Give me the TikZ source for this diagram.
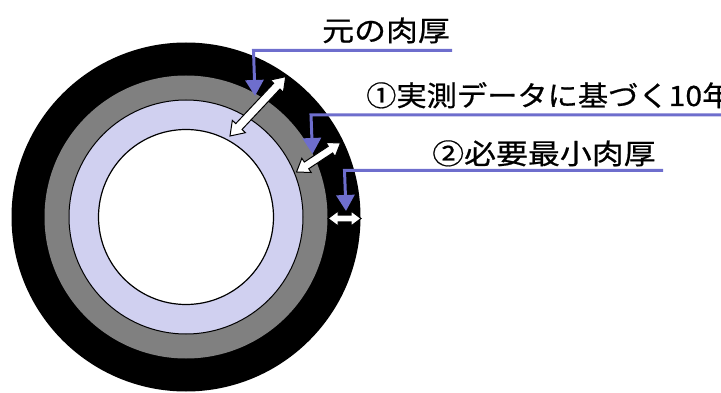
\documentclass[tikz,border=0pt]{standalone}
\usepackage{fontspec}
\newfontfamily\jp[FakeBold=0.6]{Noto Sans CJK JP}
\usetikzlibrary{arrows.meta,calc}
\definecolor{leaderblue}{RGB}{110,110,205}
\definecolor{ringgray}{RGB}{128,128,128}
\definecolor{lavender}{RGB}{208,208,240}
\newcommand\blkarrow[5]{%
 \draw[whitearrow] (#1) -- ($(#1)!#5!(#2)!#4!90:(#2)$) -- ($(#1)!#5!(#2)!#3!90:(#2)$)
 -- ($(#2)!#5!(#1)!#3!-90:(#1)$) -- ($(#2)!#5!(#1)!#4!-90:(#1)$) -- (#2)
 -- ($(#2)!#5!(#1)!#4!90:(#1)$) -- ($(#2)!#5!(#1)!#3!90:(#1)$)
 -- ($(#1)!#5!(#2)!#3!-90:(#2)$) -- ($(#1)!#5!(#2)!#4!-90:(#2)$) -- cycle;}
\tikzset{
 whitearrow/.style={draw=black,fill=white,line width=1pt,line join=miter},
 leader/.style={draw=leaderblue,line width=3pt,-{Triangle[width=18pt,length=16pt]}},
 lbl/.style={anchor=base west,inner sep=0pt,font=\jp\fontsize{28}{32}\selectfont},
}
\begin{document}
\begin{tikzpicture}[x=1pt,y=-1pt]
\useasboundingbox (0,0) rectangle (721,393);
\coordinate (c) at (186,217);
\fill[black] (c) circle (174.5);
\fill[ringgray] (c) circle (141.5);
\draw[fill=lavender,line width=1pt] (c) circle (117);
\draw[fill=white,line width=1.2pt] (c) circle (87.5);
% texts
\node[lbl] (t1) at (322,41) {\scalebox{1.14}[1]{元の肉厚}};
\node[lbl] (t2) at (366,106) {\scalebox{1.08}[1]{①実測データに基づく10年}};
\node[lbl] (t3) at (432,164) {\scalebox{1.14}[1]{②必要最小肉厚}};
% leader lines
\coordinate (l1e) at (452,50.5);
\coordinate (l1c) at (255,50.5);
\coordinate (l1t) at (255,96);
\coordinate (l2e) at (722,115);
\coordinate (l2c) at (312.5,115);
\coordinate (l2t) at (312.5,154);
\coordinate (l3e) at (663,170.5);
\coordinate (l3c) at (346,170.5);
\coordinate (l3t) at (346,211);
\draw[leader] (l1e) -- ([xshift=-1.5pt]l1c) -- (l1t);
\draw[leader] (l2e) -- ([xshift=-1.5pt]l2c) -- (l2t);
\draw[leader] (l3e) -- ([xshift=-1.5pt]l3c) -- (l3t);
% white double arrows
\coordinate (a1a) at (230,136);
\coordinate (a1b) at (285.7,76.7);
\coordinate (a2a) at (296.5,172);
\coordinate (a2b) at (340.5,143);
\coordinate (a3a) at (328,218.5);
\coordinate (a3b) at (361,218.5);
\blkarrow{a1a}{a1b}{4.3pt}{9pt}{13pt}
\blkarrow{a2a}{a2b}{4pt}{8.5pt}{12pt}
\blkarrow{a3a}{a3b}{3.3pt}{7.5pt}{10pt}
\end{tikzpicture}
\end{document}
